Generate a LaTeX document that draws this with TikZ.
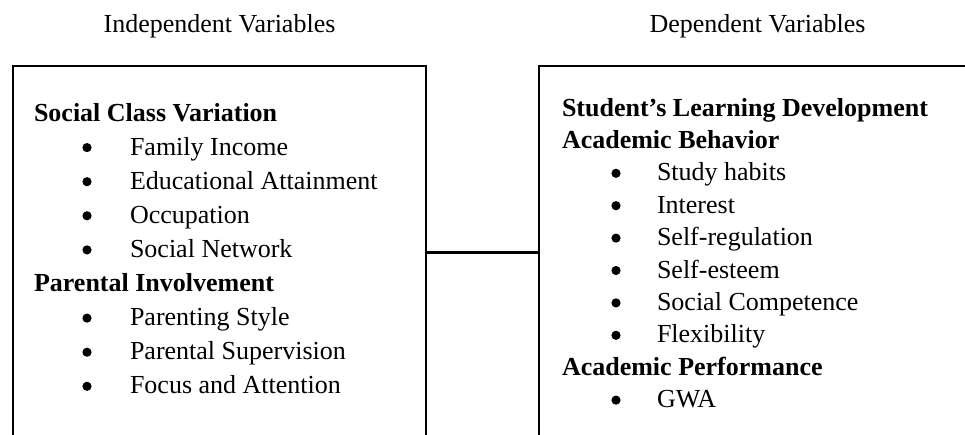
\documentclass[tikz,border=0pt]{standalone}
\usepackage{fontspec}
\setmainfont{Liberation Serif}
\begin{document}
\begin{tikzpicture}[x=1pt,y=-1pt,
  every node/.style={inner sep=0pt, outer sep=0pt, font=\fontsize{26}{34}\selectfont},
  box/.style={draw, line width=2.4pt, rectangle, minimum height=373pt},
  head/.style={anchor=base west, font=\fontsize{26}{34}\selectfont\bfseries},
  itm/.style={anchor=base west},
  title/.style={anchor=base},
  link/.style={line width=3.6pt}]
\useasboundingbox (0,0) rectangle (965,434);
\clip (0,0) rectangle (965,434);
% titles
\node[title] (tI) at (219.5,32) {Independent Variables};
\node[title] (tD) at (757.5,32) {Dependent Variables};
% boxes
\node[box, minimum width=413pt] (L) at (219.5,252.5) {};
\node[box, minimum width=451pt] (R) at (764.5,252.5) {};
\draw[link] (L.east) -- (R.west);
% left content
\def\lb{121}\def\ls{34.1}
\node[head] (l1) at (34,{\lb}) {Social Class Variation};
\node[itm] (l2) at (130,{\lb+1*\ls}) {Family Income};
\node[itm] (l3) at (130,{\lb+2*\ls}) {Educational Attainment};
\node[itm] (l4) at (130,{\lb+3*\ls}) {Occupation};
\node[itm] (l5) at (130,{\lb+4*\ls}) {Social Network};
\node[head] (l6) at (34,{\lb+5*\ls}) {Parental Involvement};
\node[itm] (l7) at (130,{\lb+6*\ls}) {Parenting Style};
\node[itm] (l8) at (130,{\lb+7*\ls}) {Parental Supervision};
\node[itm] (l9) at (130,{\lb+8*\ls}) {Focus and Attention};
\foreach \k in {1,2,3,4,6,7,8}{
  \fill (87,{\lb+\k*\ls-7.5}) circle (4.6pt);
}
% right content
\def\rb{116}\def\rs{32.4}
\node[head] (r1) at (562,{\rb}) {Student’s Learning Development};
\node[head] (r2) at (562,{\rb+1*\rs}) {Academic Behavior};
\node[itm] (r3) at (657,{\rb+2*\rs}) {Study habits};
\node[itm] (r4) at (657,{\rb+3*\rs}) {Interest};
\node[itm] (r5) at (657,{\rb+4*\rs}) {Self-regulation};
\node[itm] (r6) at (657,{\rb+5*\rs}) {Self-esteem};
\node[itm] (r7) at (657,{\rb+6*\rs}) {Social Competence};
\node[itm] (r8) at (657,{\rb+7*\rs}) {Flexibility};
\node[head] (r9) at (562,{\rb+8*\rs}) {Academic Performance};
\node[itm] (r10) at (657,{\rb+9*\rs}) {GWA};
\foreach \k in {2,3,4,5,6,7,9}{
  \fill (616,{\rb+\k*\rs-7.5}) circle (4.6pt);
}
\end{tikzpicture}
\end{document}
